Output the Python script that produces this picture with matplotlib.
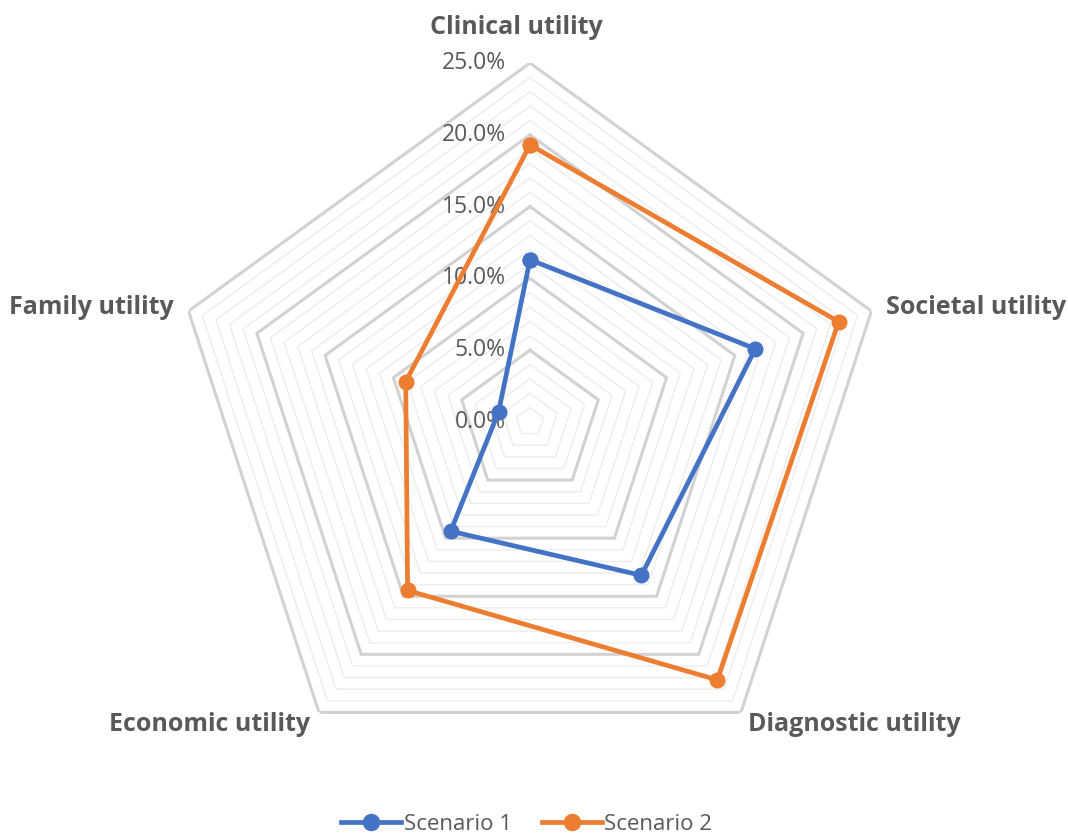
import numpy as np
import matplotlib
matplotlib.use("Agg")
import matplotlib.pyplot as plt

categories = ["Clinical utility", "Societal utility", "Diagnostic utility",
              "Economic utility", "Family utility"]
scenario_1 = [11.3, 16.5, 13.2, 9.4, 2.3]
scenario_2 = [19.3, 22.6, 22.2, 14.5, 9.1]
series_names = ["Scenario 1", "Scenario 2"]
tick_values = [0, 5, 10, 15, 20, 25]
tick_labels = ["0.0%", "5.0%", "10.0%", "15.0%", "20.0%", "25.0%"]

BLUE = "#4472C4"
ORANGE = "#ED7D31"
TEXT = "#595959"

plt.rcParams["font.family"] = ["Open Sans", "DejaVu Sans"]

W, H = 1068, 835
fig = plt.figure(figsize=(W / 100, H / 100), dpi=100)
fig.patch.set_facecolor("white")

cx, cy, R = 530, 422, 359
ax = fig.add_axes([(cx - R) / W, (H - cy - R) / H, 2 * R / W, 2 * R / H],
                  projection="polar")
ax.set_theta_offset(np.pi / 2)
ax.set_theta_direction(-1)
ax.set_ylim(0, 25)
ax.grid(False)
ax.spines["polar"].set_visible(False)
ax.set_xticks([])
ax.set_yticks([])
ax.patch.set_alpha(0)

n = len(categories)
theta = np.arange(n) * 2 * np.pi / n
theta_closed = np.append(theta, theta[0])

# pentagon grid: light minor rings every 1%, darker major rings every 5%
for r in range(1, 26):
    major = r % 5 == 0
    ax.plot(theta_closed, [r] * (n + 1),
            color="#d2d2d2" if major else "#ededed",
            lw=2.2 if major else 1.0, zorder=1 if major else 0.5,
            solid_joinstyle="miter")

for vals, col, name in [(scenario_1, BLUE, series_names[0]),
                        (scenario_2, ORANGE, series_names[1])]:
    v = list(vals) + [vals[0]]
    ax.plot(theta_closed, v, color=col, lw=3.4, marker="o", ms=10.5,
            label=name, zorder=3, solid_joinstyle="round")

# radial tick labels along the top axis
for val, lab in zip(tick_values, tick_labels):
    ax.annotate(lab, xy=(0, val), xytext=(-24 * 0.72, 0),
                textcoords="offset points", ha="right", va="center",
                fontsize=16.5, color=TEXT, zorder=2)

# category labels around the outer ring
offsets = [(-14, 36, "center"), (15, 4, "left"), (7, -12, "left"),
           (-9, -12, "right"), (-15, 4, "right")]
for t, name, (dx, dy, ha) in zip(theta, categories, offsets):
    ax.annotate(name, xy=(t, 25), xytext=(dx * 0.72, dy * 0.72),
                textcoords="offset points", ha=ha, va="center",
                fontsize=18, fontweight="bold", color=TEXT,
                annotation_clip=False)

leg = fig.legend(loc="center", bbox_to_anchor=(0.493, 11 / H), ncol=2,
                 frameon=False, fontsize=16, handlelength=2.7,
                 handletextpad=0.13, columnspacing=1.35, borderpad=0.1,
                 markerscale=1.1)
for txt in leg.get_texts():
    txt.set_color(TEXT)

fig.savefig("out.png", dpi=100, facecolor="white")
